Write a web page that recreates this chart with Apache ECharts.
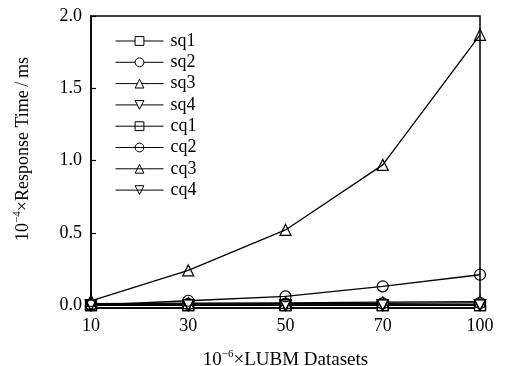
<!DOCTYPE html>
<html><head><meta charset="utf-8">
<script src="https://cdn.jsdelivr.net/npm/echarts@6/dist/echarts.min.js"></script>
<style>html,body{margin:0;padding:0;background:#fff}#c{width:506px;height:366px}</style>
</head><body><div id="c"></div>
<script>
var categories = ['10', '30', '50', '70', '100'];
var yTicks = [0, 0.5, 1.0, 1.5, 2.0];
var sq1 = [0, 0, 0, 0, 0];
var sq2 = [0.005, 0.008, 0.01, 0.012, 0.015];
var sq3 = [0.01, 0.014, 0.016, 0.02, 0.024];
var sq4 = [0, 0, 0, 0, 0];
var cq1 = [0, 0, 0, 0, 0];
var cq2 = [0.0, 0.03, 0.06, 0.13, 0.21];
var cq3 = [0.03, 0.24, 0.52, 0.97, 1.87];
var cq4 = [0, 0, 0, 0, 0];

var font = 'Liberation Serif';
function mk(name, data, symbol, filled) {
  return {
    name: name, type: 'line', data: data, symbol: symbol, symbolSize: 11,
    showAllSymbol: true, clip: false,
    lineStyle: { color: '#000', width: 1.3 },
    itemStyle: { color: filled ? '#fff' : 'rgba(0,0,0,0)', borderColor: '#000', borderWidth: 1.2 },
    emphasis: { disabled: true }
  };
}
var tri = 'triangle';
var itri = 'path://M0,0 L10,0 L5,9 Z';
function rich(fs) {
  return { a: { fontFamily: font, fontSize: fs, color: '#000' }, s: { fontFamily: font, fontSize: 11, color: '#000', verticalAlign: 'top', padding: [0, 0, 11, 0] } };
}
var chart = echarts.init(document.getElementById('c'));
chart.setOption({
  animation: false,
  grid: { left: 91, right: 26, top: 16, bottom: 58, show: true, borderColor: '#000', borderWidth: 1.5, backgroundColor: 'transparent', outerBoundsMode: 'none', containLabel: false },
  legend: {
    orient: 'vertical', left: 110, top: 27, itemWidth: 48, itemHeight: 11, itemGap: 3.3,
    lineStyle: { width: 1 },
    itemStyle: { borderWidth: 1 },
    textStyle: { fontFamily: font, fontSize: 18, color: '#000', lineHeight: 16, padding: [0, 0, 0, 2] },
    data: ['sq1', 'sq2', 'sq3', 'sq4', 'cq1', 'cq2', 'cq3', 'cq4']
  },
  xAxis: {
    type: 'category', data: categories, boundaryGap: false,
    name: '{a|10}{s|−6}{a|×LUBM Datasets}', nameLocation: 'middle', nameGap: 41,
    nameTextStyle: { rich: rich(19) },
    axisLine: { onZero: false, lineStyle: { color: '#000', width: 1.5 } },
    axisTick: { show: false },
    axisLabel: { fontFamily: font, fontSize: 18, color: '#000', margin: 9 },
    splitLine: { show: false }
  },
  yAxis: {
    type: 'value', min: -0.02, max: 2.0,
    name: '{a|10}{s|−4}{a|×Response Time\u2009/\u2009ms}', nameLocation: 'middle', nameGap: 57, nameRotate: 90,
    nameTextStyle: { rich: rich(18), padding: [0, 0, 0, 26] },
    axisLine: { show: true, onZero: false, lineStyle: { color: '#000', width: 1.5 } },
    axisTick: { show: true, inside: true, length: 5, customValues: yTicks, lineStyle: { color: '#000', width: 1.2 } },
    axisLabel: { fontFamily: font, fontSize: 18, color: '#000', margin: 9, customValues: yTicks, formatter: function (v) { return v.toFixed(1); } },
    splitLine: { show: false }
  },
  series: [
    mk('sq1', sq1, 'rect', true),
    mk('sq2', sq2, 'circle', true),
    mk('sq3', sq3, tri, true),
    mk('sq4', sq4, itri, true),
    mk('cq1', cq1, 'rect', false),
    mk('cq2', cq2, 'circle', false),
    mk('cq3', cq3, tri, false),
    mk('cq4', cq4, itri, false)
  ]
});
</script></body></html>
